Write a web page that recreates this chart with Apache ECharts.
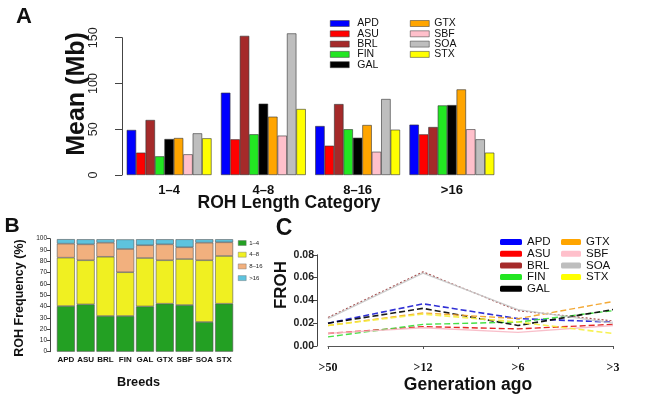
<!DOCTYPE html>
<html><head><meta charset="utf-8">
<script src="https://cdn.jsdelivr.net/npm/echarts@6/dist/echarts.min.js"></script>
<style>html,body{margin:0;padding:0;background:#fff}#c{width:661px;height:398px}</style>
</head><body><div id="c"></div>
<script>
// ---- Panel A: mean ROH length (Mb) per length category ----
const catsA = ['1–4', '4–8', '8–16', '>16'];
const breeds = ['APD', 'ASU', 'BRL', 'FIN', 'GAL', 'GTX', 'SBF', 'SOA', 'STX'];
const meanAPD = [49.2, 89.9, 53.5, 55.0];
const meanASU = [24.4, 39.0, 32.0, 44.4];
const meanBRL = [60.1, 152.0, 77.5, 52.4];
const meanFIN = [20.4, 44.5, 50.0, 76.0];
const meanGAL = [39.3, 77.9, 40.7, 76.4];
const meanGTX = [40.4, 63.7, 54.6, 93.5];
const meanSBF = [22.6, 43.0, 25.4, 50.0];
const meanSOA = [45.5, 154.7, 83.0, 39.0];
const meanSTX = [40.1, 72.1, 49.5, 24.4];
const yTicksA = [0, 50, 100, 150];

// ---- Panel B: ROH frequency (%) per breed ----
const classesB = ['1–4', '4–8', '8–16', '>16'];
const freq1to4 = [40.4, 41.9, 31.6, 31.6, 40.1, 42.5, 41.3, 26.3, 42.5];
const freq4to8 = [42.8, 39.0, 52.4, 38.7, 42.8, 38.4, 40.7, 54.6, 42.2];
const freq8to16 = [12.4, 14.1, 12.5, 20.6, 11.3, 14.1, 10.4, 15.6, 12.1];
const freqGt16 = [4.0, 4.5, 3.0, 8.5, 5.3, 4.5, 7.1, 3.0, 2.7];
const yTicksB = [0, 10, 20, 30, 40, 50, 60, 70, 80, 90, 100];

// ---- Panel C: FROH by generation ----
const gens = ['>50', '>12', '>6', '>3'];
const frohAPD = [0.020, 0.037, 0.024, 0.021];
const frohASU = [0.011, 0.017, 0.015, 0.019];
const frohBRL = [0.025, 0.065, 0.031, 0.022];
const frohFIN = [0.008, 0.019, 0.021, 0.031];
const frohGAL = [0.020, 0.033, 0.018, 0.032];
const frohGTX = [0.018, 0.029, 0.024, 0.039];
const frohSBF = [0.011, 0.016, 0.012, 0.018];
const frohSOA = [0.024, 0.064, 0.032, 0.020];
const frohSTX = [0.018, 0.028, 0.021, 0.011];
const yTicksC = [0, 0.02, 0.04, 0.06, 0.08];

const meanA = [meanAPD, meanASU, meanBRL, meanFIN, meanGAL, meanGTX, meanSBF, meanSOA, meanSTX];
const frohC = [frohAPD, frohASU, frohBRL, frohFIN, frohGAL, frohGTX, frohSBF, frohSOA, frohSTX];
const freqB = [freq1to4, freq4to8, freq8to16, freqGt16];

const breedColors = ['#0000FF', '#FF0000', '#A52A2A', '#22E622', '#000000', '#FFA500', '#FFC0CB', '#BEBEBE', '#FFFF00'];
const lineColorsC = ['#1a1ad0', '#e01010', '#9a3a3a', '#33dd33', '#000000', '#f2a020', '#f7b8c4', '#c8c8c8', '#f5f040'];
const lineTypesC = [[6,3],[6,3],[2,2],[6,3],[6,3],[6,3],'solid','solid',[6,3]];
const lineWidthsC = [1.6,1.4,1.2,1.4,1.6,1.4,1.3,1.3,1.6];
const classColorsB = ['#23A023', '#F0F021', '#F2B07E', '#5EC3DE'];

const sans = 'Liberation Sans, Arial, sans-serif';
const serif = 'Liberation Serif, Times New Roman, serif';

const series = [];
breeds.forEach((b, i) => {
  series.push({
    name: b, type: 'bar', xAxisIndex: 0, yAxisIndex: 0,
    data: meanA[i], clip: false,
    barGap: '0%', barCategoryGap: '10%',
    itemStyle: { color: breedColors[i], borderColor: '#333', borderWidth: 0.6 },
    emphasis: { disabled: true }
  });
});
classesB.forEach((c, k) => {
  series.push({
    name: c, type: 'bar', xAxisIndex: 1, yAxisIndex: 1, stack: 'freq',
    data: freqB[k], barCategoryGap: '9%',
    itemStyle: { color: classColorsB[k], borderColor: '#555', borderWidth: 0.6 },
    emphasis: { disabled: true }
  });
});
breeds.forEach((b, i) => {
  series.push({
    name: b, type: 'line', xAxisIndex: 2, yAxisIndex: 2,
    data: frohC[i], showSymbol: false, symbol: 'none',
    lineStyle: { color: lineColorsC[i], type: lineTypesC[i], width: lineWidthsC[i], opacity: 0.9 },
    itemStyle: { color: breedColors[i] },
    emphasis: { disabled: true }
  });
});

function txt(text, x, y, size, opts) {
  opts = opts || {};
  return {
    type: 'text', x: x, y: y, rotation: opts.rot || 0, silent: true,
    style: {
      text: text, fill: '#111', textAlign: 'center', textVerticalAlign: 'middle',
      font: (opts.weight || 'bold') + ' ' + size + 'px ' + (opts.family || sans)
    }
  };
}

const option = {
  animation: false,
  backgroundColor: '#ffffff',
  grid: [
    { left: 122, top: 37.7, width: 377, height: 137.3 },
    { left: 56, top: 238.7, width: 178, height: 113 },
    { left: 328, top: 254.8, width: 285, height: 91.2 }
  ],
  xAxis: [
    { gridIndex: 0, type: 'category', data: catsA,
      axisLine: { show: false }, axisTick: { show: false },
      axisLabel: { fontFamily: sans, fontWeight: 'bold', fontSize: 13, color: '#111', margin: 9 } },
    { gridIndex: 1, type: 'category', data: breeds,
      axisLine: { show: false }, axisTick: { show: false },
      axisLabel: { fontFamily: sans, fontWeight: 'bold', fontSize: 8, color: '#111', margin: 4, interval: 0 } },
    { gridIndex: 2, type: 'category', data: gens, boundaryGap: false, offset: 3,
      axisLine: { show: true, lineStyle: { color: '#555', width: 1 } },
      axisTick: { show: true, length: 3, lineStyle: { color: '#555' } },
      axisLabel: { fontFamily: serif, fontWeight: 'bold', fontSize: 12, color: '#111', margin: 13 } }
  ],
  yAxis: [
    { gridIndex: 0, type: 'value', min: yTicksA[0], max: yTicksA[yTicksA.length - 1], interval: 50,
      axisLine: { show: true, lineStyle: { color: '#444', width: 1 } },
      axisTick: { show: true, length: 7, lineStyle: { color: '#444' } },
      splitLine: { show: false },
      axisLabel: { rotate: 90, fontFamily: sans, fontSize: 12.5, color: '#222', margin: 22 } },
    { gridIndex: 1, type: 'value', min: yTicksB[0], max: yTicksB[yTicksB.length - 1], interval: 10, offset: 6,
      axisLine: { show: true, lineStyle: { color: '#444', width: 1 } },
      axisTick: { show: true, length: 3, lineStyle: { color: '#444' } },
      splitLine: { show: false },
      axisLabel: { fontFamily: sans, fontSize: 6.5, color: '#222', margin: 3 } },
    { gridIndex: 2, type: 'value', min: yTicksC[0], max: yTicksC[yTicksC.length - 1], interval: 0.02, offset: 11,
      axisLine: { show: true, lineStyle: { color: '#444', width: 1 } },
      axisTick: { show: true, length: 4, lineStyle: { color: '#444' } },
      splitLine: { show: false },
      axisLabel: { fontFamily: sans, fontWeight: 'bold', fontSize: 10.5, color: '#222', margin: 3,
        formatter: v => v.toFixed(2) } }
  ],
  legend: [
    { data: breeds.slice(0, 5), orient: 'vertical', left: 330, top: 18, padding: 0, icon: 'rect',
      itemWidth: 19, itemHeight: 6, itemGap: -0.7, selectedMode: false,
      itemStyle: { borderColor: '#333', borderWidth: 0.5 },
      textStyle: { fontFamily: sans, fontSize: 10.5, color: '#111', padding: [0, 0, 0, 3] } },
    { data: breeds.slice(5), orient: 'vertical', left: 410, top: 18, padding: 0, icon: 'rect',
      itemWidth: 19, itemHeight: 6, itemGap: -0.7, selectedMode: false,
      itemStyle: { borderColor: '#333', borderWidth: 0.5 },
      textStyle: { fontFamily: sans, fontSize: 10.5, color: '#111' } },
    { data: classesB, orient: 'vertical', left: 238, top: 240, padding: 0, icon: 'rect',
      itemWidth: 8, itemHeight: 5, itemGap: 5.7, selectedMode: false,
      itemStyle: { borderColor: '#666', borderWidth: 0.4 },
      textStyle: { fontFamily: sans, fontSize: 6, color: '#222', lineHeight: 6, padding: [0, 0, 0, -2] } },
    { data: breeds.slice(0, 5), orient: 'vertical', left: 500, top: 236, padding: 0, icon: 'roundRect',
      itemWidth: 22, itemHeight: 6, itemGap: -0.3, selectedMode: false,
      itemStyle: { borderWidth: 0 },
      textStyle: { fontFamily: sans, fontSize: 11.5, color: '#111', lineHeight: 11.2 } },
    { data: breeds.slice(5), orient: 'vertical', left: 561, top: 236, padding: 0, icon: 'roundRect',
      itemWidth: 20, itemHeight: 6, itemGap: -0.3, selectedMode: false,
      itemStyle: { borderWidth: 0 },
      textStyle: { fontFamily: sans, fontSize: 11.5, color: '#111', lineHeight: 11.2 } }
  ],
  graphic: [
    txt('A', 24, 17, 22),
    txt('Mean (Mb)', 77, 94, 25, { rot: Math.PI / 2 }),
    txt('ROH Length Category', 289, 203, 17.5),
    txt('B', 12, 226, 21),
    txt('ROH Frequency (%)', 19.5, 298, 12.5, { rot: Math.PI / 2 }),
    txt('Breeds', 138.5, 382, 12.7),
    txt('C', 284, 228.5, 23),
    txt('FROH', 281, 285, 17, { rot: Math.PI / 2 }),
    txt('Generation ago', 468, 385, 17.5)
  ],
  series: series
};

const chart = echarts.init(document.getElementById('c'), null, { renderer: 'canvas' });
chart.setOption(option);
</script>
</body></html>
